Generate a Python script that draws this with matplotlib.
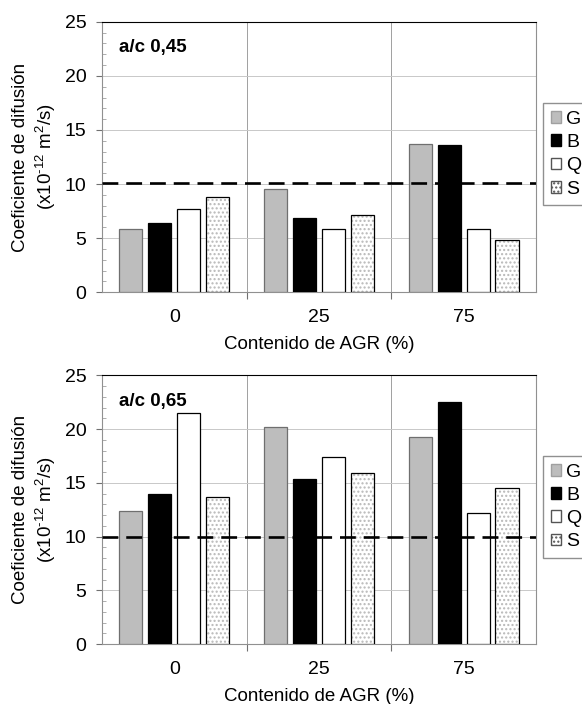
import matplotlib
matplotlib.use("Agg")
import matplotlib.pyplot as plt
import numpy as np
from matplotlib.patches import Patch
from matplotlib.ticker import MultipleLocator

plt.rcParams['font.family'] = ['Liberation Sans', 'DejaVu Sans']
plt.rcParams['mathtext.fontset'] = 'custom'
plt.rcParams['mathtext.rm'] = 'Liberation Sans'

grupos = ['0', '25', '75']
series = ['G', 'B', 'Q', 'S']
# valores a/c 0,45
g_045 = [5.85, 9.5, 13.7]
b_045 = [6.35, 6.9, 13.6]
q_045 = [7.65, 5.85, 5.85]
s_045 = [8.8, 7.1, 4.8]
lim_045 = 10.1
# valores a/c 0,65
g_065 = [12.4, 20.2, 19.3]
b_065 = [14.0, 15.4, 22.5]
q_065 = [21.5, 17.4, 12.2]
s_065 = [13.7, 15.9, 14.5]
lim_065 = 10.0

colores = ['#bdbdbd', '#000000', '#ffffff', '#ffffff']
bordes = ['#6f6f6f', '#000000', '#000000', '#000000']


def panel(ax, datos, limite, titulo):
    x = np.arange(len(grupos))
    w = 0.16
    for i, (nombre, vals) in enumerate(zip(series, datos)):
        pos = x + (i - 1.5) * 0.2
        if nombre == 'S':
            # relleno punteado gris claro
            ax.bar(pos, vals, w, color='white', edgecolor='#b8b8b8', hatch='....', linewidth=0, zorder=3)
            ax.bar(pos, vals, w, color='none', edgecolor='black', linewidth=0.9, zorder=4)
        else:
            ax.bar(pos, vals, w, color=colores[i], edgecolor=bordes[i], linewidth=0.9, zorder=3)
    ax.axhline(limite, color='black', lw=1.9, ls=(0, (6, 3)), zorder=5)

    ax.set_xlim(-0.5, 2.5)
    ax.set_ylim(0, 25)
    ax.yaxis.set_major_locator(MultipleLocator(5))
    ax.yaxis.set_minor_locator(MultipleLocator(1))
    ax.tick_params(axis='y', which='major', direction='out', length=4, color='#707070',
                   labelsize=14, pad=7)
    ax.tick_params(axis='y', which='minor', direction='in', length=3, color='#a0a0a0')
    ax.set_xticks([0.5, 1.5])
    ax.set_xticks(x, minor=True)
    ax.set_xticklabels([], minor=False)
    ax.set_xticklabels(grupos, minor=True)
    ax.tick_params(axis='x', which='major', direction='out', length=5, color='#707070')
    ax.tick_params(axis='x', which='minor', length=0, labelsize=14, pad=12)
    ax.grid(axis='y', color='#c8c8c8', lw=0.7, zorder=0)
    ax.grid(axis='x', which='major', color='#a0a0a0', lw=0.7, zorder=0)
    for s in ['left', 'bottom', 'right']:
        ax.spines[s].set_color('#909090')
    ax.spines['top'].set_color('black')

    ax.text(0.04, 0.935, titulo, transform=ax.transAxes, fontsize=13.5, fontweight='bold', va='top')
    ax.set_ylabel('Coeficiente de difusión\n(x10$^{\\text{-}12}$ m$^{2}$/s)', fontsize=13.5, labelpad=5)
    ax.set_xlabel('Contenido de AGR (%)', fontsize=13.5, labelpad=7)

    handles = [Patch(facecolor='#bdbdbd', edgecolor='#a0a0a0'),
               Patch(facecolor='black', edgecolor='black'),
               Patch(facecolor='white', edgecolor='#555555'),
               Patch(facecolor='white', edgecolor='#555555', hatch='....')]
    ax.legend(handles, series, loc='center left', bbox_to_anchor=(1.016, 0.51), fontsize=14,
              handlelength=0.55, handleheight=0.55, handletextpad=0.25, labelspacing=0.32,
              borderpad=0.4, borderaxespad=0, fancybox=False, edgecolor='#909090', framealpha=1)


fig = plt.figure(figsize=(5.82, 7.04), dpi=100)
ax1 = fig.add_axes([0.175, 0.585, 0.746, 0.384])
ax2 = fig.add_axes([0.175, 0.085, 0.746, 0.382])
panel(ax1, [g_045, b_045, q_045, s_045], lim_045, 'a/c 0,45')
panel(ax2, [g_065, b_065, q_065, s_065], lim_065, 'a/c 0,65')

fig.savefig('out.png', dpi=100)
